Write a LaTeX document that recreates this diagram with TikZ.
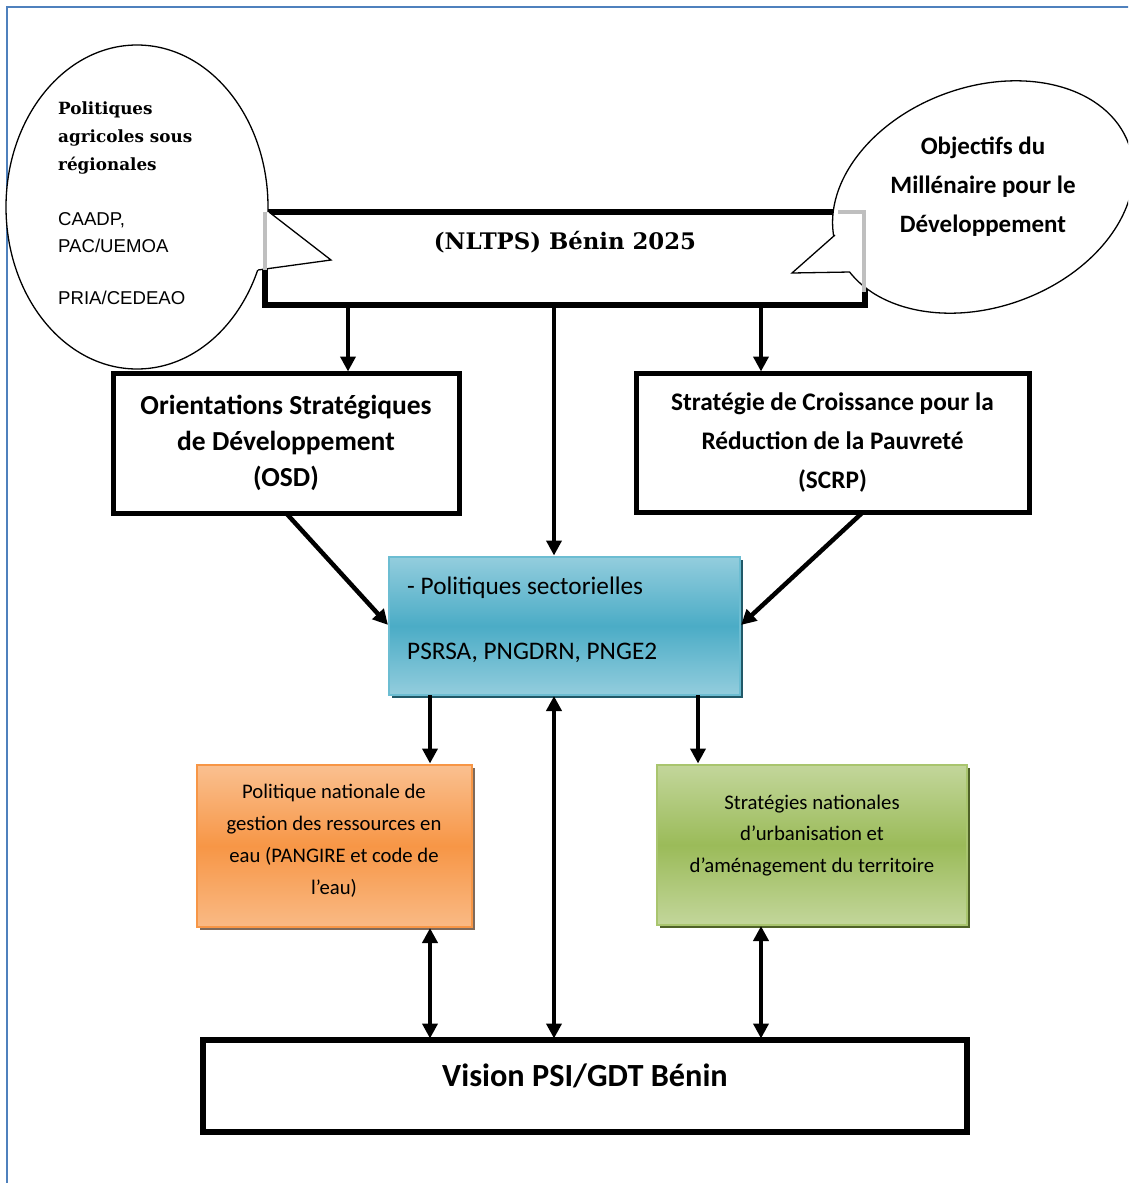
\documentclass[tikz,border=0pt]{standalone}
\usepackage{fontspec}
\setmainfont{Carlito}
\newfontfamily\bookf{DejaVu Serif}
\newfontfamily\arialf{Liberation Sans}
\usetikzlibrary{arrows.meta}
\definecolor{frameblue}{HTML}{4F81BD}
\definecolor{blueMid}{HTML}{4BACC6}
\definecolor{blueLight}{HTML}{93CDDD}
\definecolor{blueShadow}{HTML}{215968}
\definecolor{blueBorder}{HTML}{6CBDD2}
\definecolor{orMid}{HTML}{F79646}
\definecolor{orLight}{HTML}{FAC090}
\definecolor{orShadow}{HTML}{7F6A5A}
\definecolor{orBorder}{HTML}{F79646}
\definecolor{grMid}{HTML}{9BBB59}
\definecolor{grLight}{HTML}{C3D69B}
\definecolor{grShadow}{HTML}{4F6228}
\definecolor{grBorder}{HTML}{A9C56E}
\begin{document}
\begin{tikzpicture}[x=1pt,y=-1pt,
  box/.style={draw=black, line width=5pt, fill=white, inner sep=0pt, outer sep=0pt, anchor=north west, align=center},
  colbox/.style={line width=1.5pt, inner sep=0pt, outer sep=0pt, anchor=north west},
  shadowbox/.style={inner sep=0pt, outer sep=0pt, anchor=north west},
  arr/.style={line width=4.5pt, -{Triangle[length=15pt,width=15pt]}, shorten >=1.5pt},
  darr/.style={line width=4.5pt, {Triangle[length=15pt,width=15pt]}-{Triangle[length=15pt,width=15pt]}, shorten >=1.5pt, shorten <=1pt},
  bubble/.style={draw=black, line width=1.3pt, fill=white},
  tail/.style={draw=black, line width=1.3pt, line join=miter},
  gedge/.style={draw=black!25, line width=3.5pt}
]
\clip (0,0) rectangle (1128,1183);
\fill[white] (0,0) rectangle (1128,1183);
% outer frame
\draw[frameblue, line width=2.5pt] (7,1190) -- (7,7) -- (1135,7);

% NLTPS box
\node[box, line width=6pt, minimum width=600pt, minimum height=93pt] (nltps) at (265,212) {};

% left callout
\draw[bubble] (137,207) ellipse [x radius=131pt, y radius=162pt];
\fill[white] (255,214) -- (269,212) -- (331,260) -- (258,270) -- (245,266) -- cycle;
\draw[tail] (269,212) -- (331,260) -- (258,270);
\node[anchor=west, align=left, inner sep=0pt, font=\bookf\bfseries\fontsize{16.8}{28}\selectfont] (lbA) at (58,138) {Politiques\\agricoles sous\\régionales};
\node[anchor=west, align=left, inner sep=0pt, font=\arialf\fontsize{18.6}{27}\selectfont] (lbB) at (58,232.5) {CAADP,\\PAC/UEMOA};
\node[anchor=west, align=left, inner sep=0pt, font=\arialf\fontsize{18.6}{27}\selectfont] (lbC) at (58,298) {PRIA/CEDEAO};

% right callout
\draw[bubble, rotate around={20:(983,197)}] (983,197) ellipse [x radius=155pt, y radius=110pt];
\fill[white] (835,235) -- (792,273) -- (850,272) -- (860,262) -- (852,242) -- cycle;
\draw[tail] (835,235) -- (792,273) -- (850,272);
\node[align=center, inner sep=0pt, font=\bfseries\fontsize{25}{39}\selectfont] (mdgT) at (983,187) {Objectifs du\\Millénaire pour le\\Développement};

% grey edges of the NLTPS box seen through the callouts
\draw[gedge] (265,212) -- (265,270);
\draw[gedge] (838,212) -- (864,212) -- (864,292);

\node[inner sep=0pt, font=\bookf\bfseries\fontsize{22.8}{25}\selectfont] (nltpsT) at (565,242) {(NLTPS) Bénin 2025};

% OSD and SCRP
\node[box, minimum width=346pt, minimum height=140pt, font=\bfseries\fontsize{27.5}{36}\selectfont] (osd) at (113,373) {Orientations Stratégiques\\de Développement\\(OSD)};
\node[box, minimum width=393pt, minimum height=139pt, font=\bfseries\fontsize{25.3}{39}\selectfont] (scrp) at (636,373) {Stratégie de Croissance pour la\\Réduction de la Pauvreté\\(SCRP)};

% blue box
\node[shadowbox, fill=blueShadow, minimum width=351pt, minimum height=138pt] (blueS) at (392,560) {};
\node[colbox, draw=blueBorder, top color=blueLight, bottom color=blueLight, middle color=blueMid, minimum width=351pt, minimum height=138pt] (blue) at (389,557) {};
\node[anchor=west, align=left, inner sep=0pt, font=\fontsize{25.3}{65}\selectfont] (blueT) at (407,619.5) {- Politiques sectorielles\\PSRSA, PNGDRN, PNGE2};

% orange box
\node[shadowbox, fill=orShadow, minimum width=275pt, minimum height=162pt] (orS) at (200,768) {};
\node[colbox, draw=orBorder, top color=orLight, bottom color=orLight!85!orMid, middle color=orMid, minimum width=275pt, minimum height=162pt] (orb) at (197,765) {};
\node[align=center, inner sep=0pt, font=\fontsize{20.7}{32}\selectfont] (orT) at (334,841) {Politique nationale de\\gestion des ressources en\\eau (PANGIRE et code de\\l’eau)};

% green box
\node[shadowbox, fill=grShadow, minimum width=310pt, minimum height=160pt] (grS) at (660,768) {};
\node[colbox, draw=grBorder, top color=grLight, bottom color=grLight, middle color=grMid, minimum width=310pt, minimum height=160pt] (grb) at (657,765) {};
\node[align=center, inner sep=0pt, font=\fontsize{20.8}{31.5}\selectfont] (grT) at (812,835.5) {Stratégies nationales\\d’urbanisation et\\d’aménagement du territoire};

% vision box
\node[box, line width=6pt, minimum width=764pt, minimum height=92pt] (vision) at (203,1040) {};
\node[inner sep=0pt, font=\bfseries\fontsize{32.3}{36}\selectfont] (visionT) at (585,1076) {Vision PSI/GDT Bénin};

% arrow columns
\coordinate (cA) at (348,0);
\coordinate (cB) at (554,0);
\coordinate (cC) at (761,0);
\coordinate (cD) at (430,0);
\coordinate (cE) at (698,0);
\coordinate (scrpOut) at (862,513);

\draw[arr] (cA |- nltps.south) -- (cA |- osd.north);
\draw[arr] (cB |- nltps.south) -- (cB |- blue.north);
\draw[arr] (cC |- nltps.south) -- (cC |- scrp.north);
\draw[arr] (osd.south) -- (blue.west);
\draw[arr] (scrpOut) -- (blue.east);
\draw[arr] (cD |- blue.south) -- (cD |- orb.north);
\draw[arr] (cE |- blue.south) -- (cE |- grb.north);
\draw[darr] (cD |- orb.south) -- (cD |- vision.north);
\draw[darr] (cB |- blue.south) -- (cB |- vision.north);
\draw[darr] (cC |- grb.south) -- (cC |- vision.north);
\end{tikzpicture}
\end{document}
